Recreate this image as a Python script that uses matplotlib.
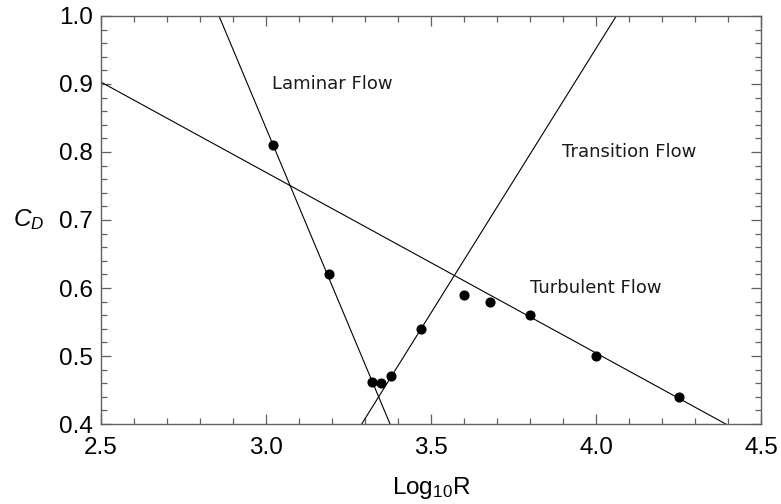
import numpy as np
import matplotlib
matplotlib.use("Agg")
from matplotlib import pyplot as plt
from matplotlib.ticker import MultipleLocator

# drag coefficient measurements, log10 of Reynolds number vs C_D
log_r = [3.02, 3.19, 3.32, 3.35, 3.38, 3.47, 3.60, 3.68, 3.80, 4.00, 4.25]
c_d = [0.81, 0.62, 0.462, 0.46, 0.47, 0.54, 0.59, 0.58, 0.56, 0.50, 0.44]

# which points each regime line is fitted to
laminar_idx = [0, 1, 2]
transition_idx = [4, 5]
turbulent_idx = [8, 9, 10]

regime_labels = ["Laminar Flow", "Transition Flow", "Turbulent Flow"]
label_pos = [(3.20, 0.90), (4.10, 0.80), (4.00, 0.60)]

plt.rcParams["mathtext.fontset"] = "custom"
plt.rcParams["mathtext.rm"] = "Liberation Sans"
plt.rcParams["mathtext.it"] = "Liberation Sans:italic"

fig = plt.figure(figsize=(7.81, 5.04), dpi=100)
ax = fig.add_axes([0.1293, 0.1587, 0.8451, 0.8096])

x = np.array(log_r)
y = np.array(c_d)
xs = np.array([2.0, 5.0])
for idx in (laminar_idx, transition_idx, turbulent_idx):
    slope, intercept = np.polyfit(x[idx], y[idx], 1)
    ax.plot(xs, slope * xs + intercept, color="black", lw=0.8)

ax.plot(x, y, "o", color="black", markersize=6.3, zorder=3)

for text, (tx, ty) in zip(regime_labels, label_pos):
    ax.text(tx, ty, text, ha="center", va="center", fontsize=13,
            family="DejaVu Sans", color="#1a1a1a")

ax.set_xlim(2.5, 4.5)
ax.set_ylim(0.4, 1.0)
ax.xaxis.set_major_locator(MultipleLocator(0.5))
ax.xaxis.set_minor_locator(MultipleLocator(0.1))
ax.yaxis.set_major_locator(MultipleLocator(0.1))
ax.yaxis.set_minor_locator(MultipleLocator(0.02))
ax.xaxis.set_major_formatter(lambda v, p: f"{v:.1f}")
ax.yaxis.set_major_formatter(lambda v, p: f"{v:.1f}")

frame_col = "#606060"
for s in ax.spines.values():
    s.set_color(frame_col)
    s.set_linewidth(1.0)
ax.tick_params(which="both", direction="in", top=True, right=True,
               color=frame_col, width=0.9)
ax.tick_params(which="major", length=7)
ax.tick_params(which="minor", length=4)
ax.tick_params(axis="x", which="major", labelsize=17.5, pad=9)
ax.tick_params(axis="y", which="major", labelsize=17.5, pad=6)
for lab in ax.get_xticklabels() + ax.get_yticklabels():
    lab.set_family("Liberation Sans")

ax.set_xlabel(r"Log$_{10}$R", fontsize=17.5, family="Liberation Sans", labelpad=12)
ax.set_ylabel(r"$C_D$", fontsize=17.5, rotation=0, ha="center", va="center")
ax.yaxis.set_label_coords(-0.11, 0.5)

fig.savefig("out.png", dpi=100)
